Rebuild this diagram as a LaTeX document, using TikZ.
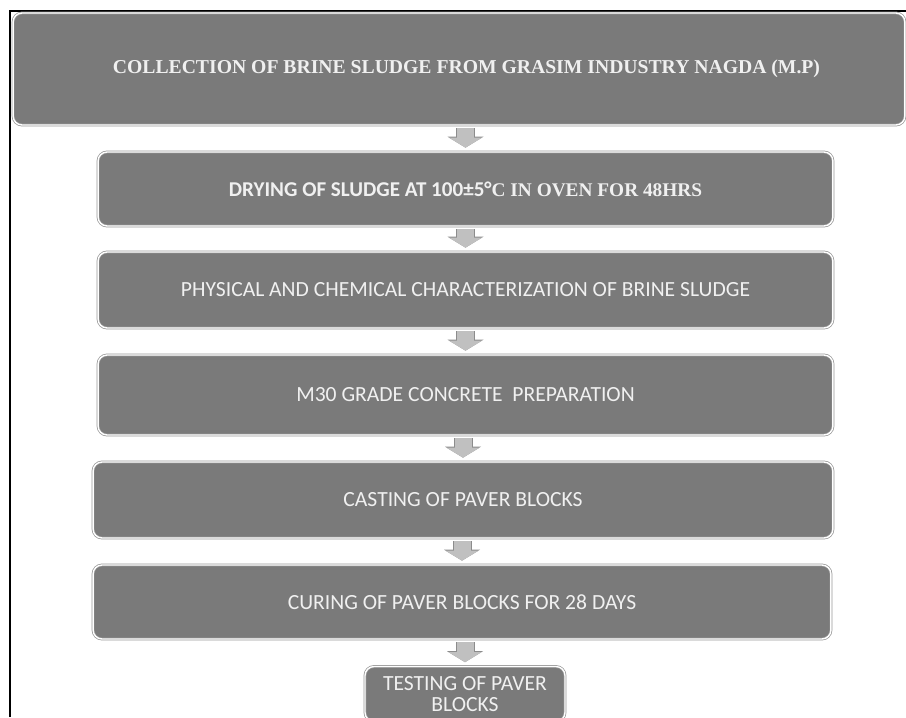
\documentclass[tikz,border=0pt]{standalone}
\usepackage{fontspec}
\setmainfont{Liberation Serif}
\newfontfamily\calibri{Carlito}
\usetikzlibrary{arrows.meta}
\definecolor{boxgray}{RGB}{122,122,122}
\definecolor{boxrim}{RGB}{150,150,150}
\definecolor{arrowgray}{RGB}{192,192,192}
\definecolor{arrowedge}{RGB}{140,140,140}
\definecolor{textwhite}{RGB}{240,240,240}

\begin{document}
\begin{tikzpicture}[x=0.02cm, y=-0.02cm,
        stage/.style={draw=boxrim, double=white, double distance=0.8pt, fill=boxgray,
            rounded corners=0.18cm, text=textwhite, inner sep=0pt, align=center,
            minimum width=14.7cm, font=\calibri\fontsize{12.3}{12}\selectfont},
        downarrow/.style={draw=arrowgray, line width=0.34cm,
            -{Triangle[width=0.66cm, length=0.2cm, line width=0pt]},
            shorten <=0.06cm, shorten >=0.08cm,
            preaction={draw=arrowedge, line width=0.38cm,
                -{Triangle[width=0.72cm, length=0.22cm, line width=0pt]}}}]
        \useasboundingbox (0, 0) rectangle (906, 717);

        % frame
        \draw[line width=1pt] (10, 717) -- (10, 11) -- (906, 11);

        \node[stage, minimum width=17.84cm, minimum height=2.24cm,
            font=\rmfamily\bfseries\fontsize{11.2}{13}\selectfont] (c1) at (459, 69)
            {\hspace*{0.3cm}COLLECTION OF BRINE SLUDGE FROM GRASIM INDUSTRY NAGDA (M.P)};
        \node[stage, minimum height=1.48cm] (c2) at (465.5, 189)
            {{\bfseries\fontsize{12}{14}\selectfont DRYING OF SLUDGE AT 100±5°}{\rmfamily\bfseries\fontsize{11}{13}\selectfont C IN OVEN FOR 48HRS}};
        \node[stage, minimum height=1.52cm] (c3) at (465.5, 290)
            {PHYSICAL AND CHEMICAL CHARACTERIZATION OF BRINE SLUDGE};
        \node[stage, minimum height=1.6cm] (c4) at (465.5, 395)
            {M30 GRADE CONCRETE~ PREPARATION};
        \node[stage, minimum width=14.8cm, minimum height=1.52cm] (c5) at (463, 500)
            {CASTING OF PAVER BLOCKS};
        \node[stage, minimum width=14.76cm, minimum height=1.48cm] (c6) at (462, 602)
            {CURING OF PAVER BLOCKS FOR 28 DAYS};
        \node[stage, minimum width=4cm, minimum height=1.1cm] (c7) at (465, 694)
            {TESTING OF PAVER\\BLOCKS};

        \foreach \a/\b in {c1/c2, c2/c3, c3/c4, c4/c5, c5/c6, c6/c7} {
            \draw[downarrow] (\b.north |- \a.south) -- (\b.north);
        }
    \end{tikzpicture}
\end{document}
